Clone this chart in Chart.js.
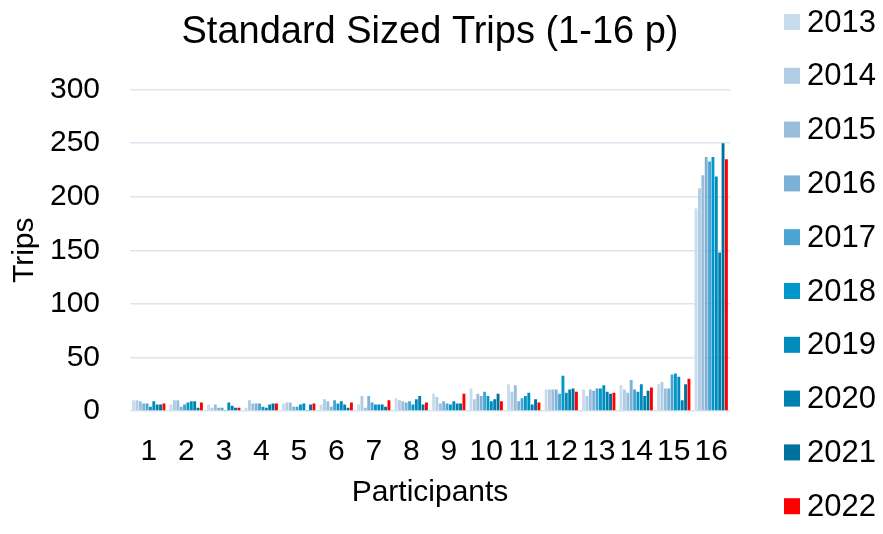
<!DOCTYPE html>
<html>
<head>
<meta charset="utf-8">
<script src="https://cdn.jsdelivr.net/npm/chart.js@4/dist/chart.umd.min.js"></script>
<style>
  body { margin: 0; background: #fff; }
</style>
</head>
<body>
<canvas id="chart" width="883" height="534"></canvas>
<script>
const participants = ['1', '2', '3', '4', '5', '6', '7', '8', '9', '10', '11', '12', '13', '14', '15', '16'];
const years = ['2013', '2014', '2015', '2016', '2017', '2018', '2019', '2020', '2021', '2022'];
const yearColors = ['#c8dceb', '#b1cce3', '#98bedb', '#7db1d6', '#4aa3d0', '#0097c9', '#008bbd', '#0080b0', '#00719c', '#ff0000'];

const trips2013 = [10, 6, 6, 3, 7, 6, 6, 12, 16, 21, 25, 20, 20, 24, 25, 189];
const trips2014 = [10, 10, 3, 10, 8, 11, 14, 10, 13, 11, 18, 20, 14, 20, 27, 208];
const trips2015 = [9, 10, 6, 7, 8, 9, 3, 9, 7, 16, 24, 20, 20, 17, 21, 220];
const trips2016 = [7, 4, 3, 7, 4, 4, 14, 8, 9, 14, 9, 20, 19, 29, 21, 237];
const trips2017 = [7, 6, 3, 7, 4, 10, 8, 9, 7, 18, 12, 16, 21, 20, 34, 233];
const trips2018 = [4, 8, 1, 4, 6, 7, 6, 6, 6, 14, 14, 33, 21, 18, 35, 237];
const trips2019 = [9, 9, 8, 3, 7, 9, 6, 11, 9, 9, 17, 17, 24, 25, 32, 219];
const trips2020 = [6, 9, 5, 6, 1, 6, 6, 14, 7, 11, 6, 20, 18, 14, 10, 148];
const trips2021 = [6, 3, 3, 7, 6, 3, 4, 6, 7, 16, 11, 21, 16, 19, 25, 250];
const trips2022 = [7, 8, 3, 7, 7, 8, 10, 8, 16, 9, 8, 18, 17, 22, 30, 235];

const series = [trips2013, trips2014, trips2015, trips2016, trips2017,
  trips2018, trips2019, trips2020, trips2021, trips2022];

const FONT = '"Liberation Sans", Arial, sans-serif';
Chart.defaults.font.family = FONT;
Chart.defaults.color = '#000';

// the built-in legend wraps into two columns here, so draw one tall column by hand
const sideLegend = {
  id: 'sideLegend',
  afterDraw(chart) {
    const { ctx } = chart;
    ctx.save();
    ctx.font = `31px ${FONT}`;
    ctx.textBaseline = 'middle';
    chart.data.datasets.forEach((ds, i) => {
      const y = 22 + i * 53.8;
      ctx.fillStyle = ds.backgroundColor;
      ctx.fillRect(784, y - 8, 16, 16);
      ctx.fillStyle = '#000';
      ctx.fillText(ds.label, 807, y + 1);
    });
    ctx.restore();
  },
};

new Chart(document.getElementById('chart'), {
  type: 'bar',
  data: {
    labels: participants,
    datasets: years.map((year, i) => ({
      label: year,
      data: series[i],
      backgroundColor: yearColors[i],
      categoryPercentage: 0.9,
      barPercentage: 0.85,
    })),
  },
  options: {
    responsive: false,
    animation: false,
    layout: { padding: { left: 0, right: 153, top: 0, bottom: 0 } },
    plugins: {
      legend: { display: false },
      tooltip: { enabled: false },
      title: {
        display: true,
        fullSize: false,
        text: 'Standard Sized Trips (1-16 p)',
        color: '#000',
        font: { size: 38, weight: 'normal' },
        padding: { top: 10, bottom: 34 },
      },
    },
    scales: {
      x: {
        grid: { display: false, drawTicks: false },
        border: { display: false },
        ticks: {
          color: '#000', font: { size: 30 }, padding: 23, maxRotation: 0, autoSkip: false,
        },
        title: {
          display: true,
          text: 'Participants',
          color: '#000',
          font: { size: 30 },
          padding: { top: 0, bottom: 23 },
        },
        afterFit(scale) { scale.height = 123; },
      },
      y: {
        min: 0,
        max: 300,
        ticks: {
          stepSize: 50, color: '#000', font: { size: 30 }, padding: 30,
        },
        grid: { color: '#d9e5f1', lineWidth: 1.5, drawTicks: false },
        border: { display: false },
        title: {
          display: true,
          text: 'Trips',
          color: '#000',
          font: { size: 30 },
          padding: { top: 7, bottom: 0 },
        },
        afterFit(scale) { scale.width = 130; },
      },
    },
  },
  plugins: [sideLegend],
});
</script>
</body>
</html>
